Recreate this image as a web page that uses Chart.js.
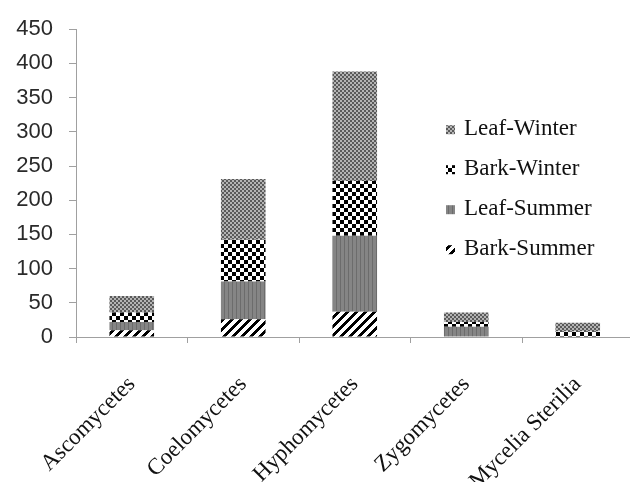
<!DOCTYPE html>
<html>
<head>
<meta charset="utf-8">
<script src="https://cdn.jsdelivr.net/npm/chart.js@4.4.1/dist/chart.umd.min.js"></script>
<style>
  html, body { margin: 0; padding: 0; background: #ffffff; overflow: hidden; }
  #wrap { width: 640px; height: 482px; position: relative; }
</style>
</head>
<body>
<div id="wrap"><canvas id="c"></canvas></div>
<script>
// ---- Data ----
const categories = ["Ascomycetes", "Coelomycetes", "Hyphomycetes", "Zygomycetes", "Mycelia Sterilia"];
const barkSummer = [10, 26, 37, 0, 0];
const leafSummer = [12, 55, 111, 15, 0];
const barkWinter = [14, 61, 80, 7, 8];
const leafWinter = [24, 89, 160, 14, 13];
const seriesNames = ["Bark-Summer", "Leaf-Summer", "Bark-Winter", "Leaf-Winter"];
const yTicks = [0, 50, 100, 150, 200, 250, 300, 350, 400, 450];

// ---- Patterns ----
function makePattern(size, painter) {
  const c = document.createElement('canvas');
  c.width = size; c.height = size;
  const g = c.getContext('2d');
  painter(g, size);
  return g.createPattern(c, 'repeat');
}
const ctxMain = document.getElementById('c').getContext('2d');

const patBarkSummer = makePattern(9, (g, n) => {
  g.fillStyle = '#ffffff'; g.fillRect(0, 0, n, n);
  g.fillStyle = '#000000';
  for (let x = 0; x < n; x++) for (let y = 0; y < n; y++) {
    if (((x + y) % n) < 4) g.fillRect(x, y, 1, 1);
  }
});
const patLeafSummer = makePattern(4, (g, n) => {
  g.fillStyle = '#858585'; g.fillRect(0, 0, n, n);
  g.fillStyle = '#6c6c6c'; g.fillRect(0, 0, 1, n);
});
const patBarkWinter = makePattern(8, (g, n) => {
  g.fillStyle = '#ffffff'; g.fillRect(0, 0, n, n);
  g.fillStyle = '#000000';
  g.fillRect(0, 0, 4, 4); g.fillRect(4, 4, 4, 4);
});
const patLeafWinter = makePattern(4, (g, n) => {
  g.fillStyle = '#5a5a5a'; g.fillRect(0, 0, n, n);
  g.fillStyle = '#b4b4b4';
  g.fillRect(0, 0, 2, 2); g.fillRect(2, 2, 2, 2);
});

// ---- Legend plugin (drawn inside plot, reversed order) ----
const innerLegend = {
  id: 'innerLegend',
  afterDraw(chart) {
    const ctx = chart.ctx;
    const area = chart.chartArea;
    const x0 = area.left + 370;
    const y0 = area.top + 100;
    const ds = chart.data.datasets.slice().reverse();
    ctx.save();
    ctx.font = '23px "Liberation Serif", "Times New Roman", serif';
    ctx.textBaseline = 'middle';
    ctx.textAlign = 'left';
    ds.forEach((d, i) => {
      const y = y0 + i * 40;
      ctx.fillStyle = d.backgroundColor;
      ctx.fillRect(x0, y - 4, 9, 9);
      ctx.fillStyle = '#111111';
      ctx.fillText(d.label, x0 + 18, y);
    });
    ctx.restore();
  }
};

const bgPlugin = {
  id: 'bg',
  beforeDraw(chart) {
    const ctx = chart.ctx;
    ctx.save();
    ctx.fillStyle = '#ffffff';
    ctx.fillRect(0, 0, chart.width, chart.height);
    ctx.restore();
  }
};

const seriesData = [barkSummer, leafSummer, barkWinter, leafWinter];
const seriesFills = [patBarkSummer, patLeafSummer, patBarkWinter, patLeafWinter];

new Chart(ctxMain, {
  type: 'bar',
  data: {
    labels: categories,
    datasets: seriesNames.map((name, i) => ({
      label: name,
      data: seriesData[i],
      backgroundColor: seriesFills[i],
      borderWidth: 0,
      barPercentage: 0.4,
      categoryPercentage: 1.0
    }))
  },
  options: {
    responsive: true,
    maintainAspectRatio: false,
    animation: false,
    layout: { padding: { top: 24, right: 6.5, bottom: 0, left: 0 } },
    plugins: {
      legend: { display: false },
      tooltip: { enabled: false }
    },
    scales: {
      x: {
        stacked: true,
        afterFit(scale) { scale.height = 145; },
        border: { color: '#a0a0a0', width: 1 },
        grid: { display: true, drawOnChartArea: false, drawTicks: true, tickLength: 6, color: '#a0a0a0', offset: true },
        ticks: {
          minRotation: 45, maxRotation: 45, padding: 28,
          color: '#111111',
          font: { family: '"Liberation Serif", "Times New Roman", serif', size: 23 }
        }
      },
      y: {
        stacked: true,
        min: yTicks[0],
        max: yTicks[yTicks.length - 1],
        afterFit(scale) { scale.width = 76; },
        afterBuildTicks(scale) { scale.ticks = yTicks.map(v => ({ value: v })); },
        border: { color: '#a0a0a0', width: 1 },
        grid: { display: true, drawOnChartArea: false, drawTicks: true, tickLength: 7, color: '#a0a0a0' },
        ticks: {
          padding: 16,
          color: '#2a2a2a',
          font: { family: '"Liberation Sans", Arial, sans-serif', size: 22 }
        }
      }
    }
  },
  plugins: [bgPlugin, innerLegend]
});
</script>
</body>
</html>
